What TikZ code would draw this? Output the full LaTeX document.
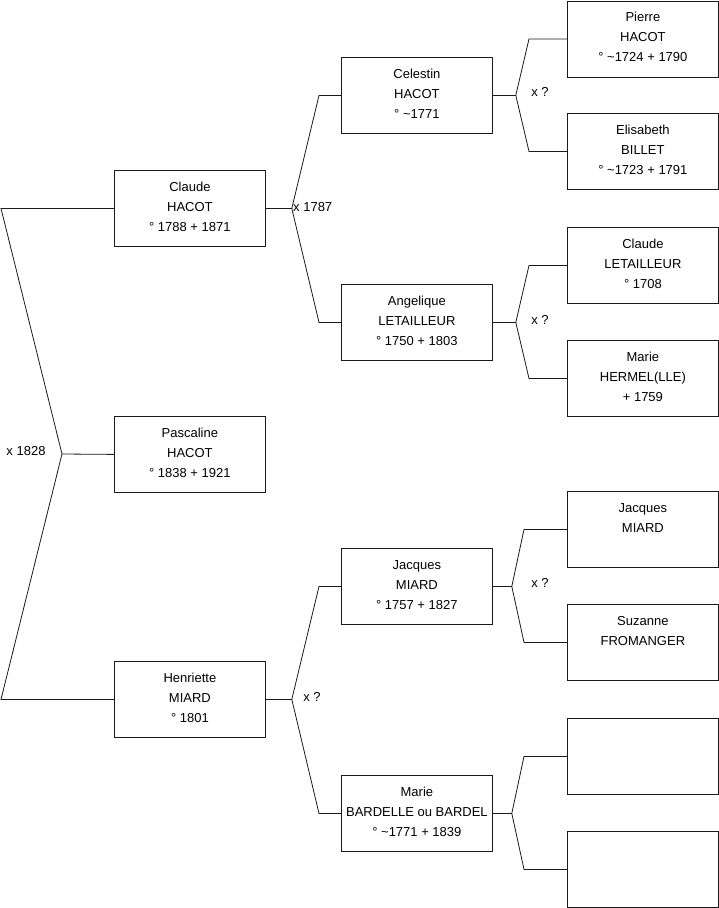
\documentclass[tikz,border=0pt]{standalone}
\usepackage{fontspec}
\setmainfont{Liberation Sans}
\usetikzlibrary{positioning}
\definecolor{treeline}{HTML}{1A1A1A}
\newcommand{\fiche}[1]{\parbox[c][76pt][t]{151pt}{\centering\vspace*{7pt}\strut#1}}

\begin{document}
\begin{tikzpicture}[x=1pt,y=-1pt,
  every node/.style={font=\fontsize{13}{20}\selectfont},
  person/.style={draw=treeline,line width=.8pt,anchor=north west,inner sep=0pt},
  link/.style={draw=treeline,line width=.8pt}]
  \useasboundingbox (0,0) rectangle (719,908);
  % child and her parents
  \node[person] (claude) at (114,170) {\fiche{Claude\\HACOT\\° 1788 + 1871}};
  \node[person] (pascaline) at (114,416) {\fiche{Pascaline\\HACOT\\° 1838 + 1921}};
  \node[person] (henriette) at (114,661) {\fiche{Henriette\\MIARD\\° 1801}};
  % grandparents
  \node[person] (celestin) at (341,57) {\fiche{Celestin\\HACOT\\° \textasciitilde1771}};
  \node[person] (angelique) at (341,284) {\fiche{Angelique\\LETAILLEUR\\° 1750 + 1803}};
  \node[person] (jacquesB) at (341,548) {\fiche{Jacques\\MIARD\\° 1757 + 1827}};
  \node[person] (marieB) at (341,775) {\fiche{Marie\\BARDELLE ou BARDEL\\° \textasciitilde1771 + 1839}};
  % great-grandparents
  \node[person] (pierre) at (567,0.5) {\fiche{Pierre\\HACOT\\° \textasciitilde1724 + 1790}};
  \node[person] (elisabeth) at (567,113) {\fiche{Elisabeth\\BILLET\\° \textasciitilde1723 + 1791}};
  \node[person] (claudeL) at (567,227) {\fiche{Claude\\LETAILLEUR\\° 1708}};
  \node[person] (marieH) at (567,340) {\fiche{Marie\\HERMEL(LLE)\\+ 1759}};
  \node[person] (jacquesA) at (567,491) {\fiche{Jacques\\MIARD}};
  \node[person] (suzanne) at (567,604) {\fiche{Suzanne\\FROMANGER}};
  \node[person] (unknownA) at (567,718) {\fiche{}};
  \node[person] (unknownB) at (567,831) {\fiche{}};

  % marriage of the parents
  \coordinate (wed1828) at (62,454);
  \draw[link] (claude.west) -- ++(-113,0) -- (wed1828) -- (pascaline.west);
  \draw[link] (henriette.west) -- ++(-113,0) -- (wed1828);
  \node (m1828) at (26,451) {x 1828};

  % parents of Claude
  \draw[link] (claude.east) -- ++(26,0) coordinate (wed1787);
  \draw[link] (celestin.west) -- ++(-22,0) -- (wed1787)
    -- ([xshift=-22pt]angelique.west) -- (angelique.west);
  \node[anchor=west,inner sep=1pt] (m1787) at (292,207) {x 1787};

  % parents of Henriette
  \draw[link] (henriette.east) -- ++(26,0) coordinate (wedH);
  \draw[link] (jacquesB.west) -- ++(-22,0) -- (wedH)
    -- ([xshift=-22pt]marieB.west) -- (marieB.west);
  \node (mH) at (312,697) {x ?};

  % parents of Celestin
  \draw[link] (celestin.east) -- ++(23,0) coordinate (wedC);
  \draw[link] (pierre.west) -- ++(-38,0) -- (wedC)
    -- ([xshift=-38pt]elisabeth.west) -- (elisabeth.west);
  \node (mC) at (540,92) {x ?};

  % parents of Angelique
  \draw[link] (angelique.east) -- ++(23,0) coordinate (wedA);
  \draw[link] (claudeL.west) -- ++(-38,0) -- (wedA)
    -- ([xshift=-38pt]marieH.west) -- (marieH.west);
  \node (mA) at (540,320) {x ?};

  % parents of Jacques
  \draw[link] (jacquesB.east) -- ++(19,0) coordinate (wedJ);
  \draw[link] (jacquesA.west) -- ++(-43,0) -- (wedJ)
    -- ([xshift=-43pt]suzanne.west) -- (suzanne.west);
  \node (mJ) at (540,583) {x ?};

  % parents of Marie
  \draw[link] (marieB.east) -- ++(19,0) coordinate (wedM);
  \draw[link] (unknownA.west) -- ++(-43,0) -- (wedM)
    -- ([xshift=-43pt]unknownB.west) -- (unknownB.west);
\end{tikzpicture}
\end{document}
